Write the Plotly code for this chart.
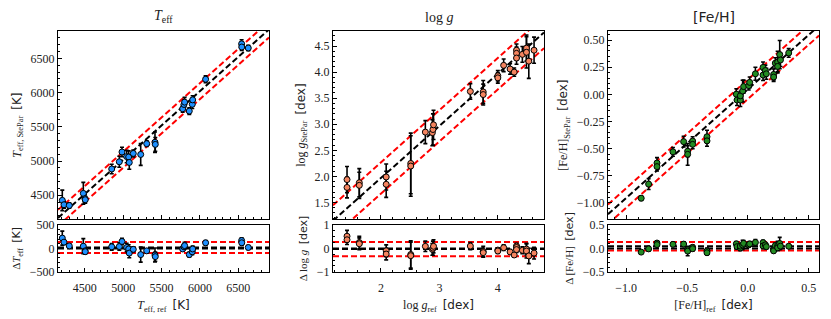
import plotly.graph_objects as go

# ---------------- data ----------------
teff_ref = [4206, 4228, 4297, 4480, 4502, 4505, 4850, 4949, 4984, 5045, 5071, 5079, 5131,
            5228, 5306, 5414, 5418, 5775, 5792, 5800, 5861, 5900, 5905, 6074, 6543, 6545, 6630]
teff_diff = [220, 134, 54, 48, -52, -70, 34, 40, 148, 20, -12, -100, -20,
             -132, -52, -140, -175, -12, 34, 60, -132, -72, -12, 120, 168, 120, 20]
teff_err = [150, 50, 40, 160, 60, 50, 70, 80, 70, 90, 90, 100, 50,
            160, 40, 150, 100, 50, 60, 70, 50, 60, 60, 50, 60, 50, 40]
teff_mean, teff_std = 20, 117

logg_ref = [1.42, 1.42, 1.63, 1.63, 2.09, 2.09, 2.51, 2.51, 2.76, 2.88, 2.89, 2.90, 3.53, 3.75,
            3.75, 4.00, 4.00, 4.10, 4.21, 4.28, 4.32, 4.32, 4.32, 4.42, 4.49, 4.49, 4.53, 4.62]
logg_sp = [1.94, 1.79, 1.88, 1.83, 1.99, 1.85, 2.25, 2.20, 2.85, 2.84, 2.90, 2.99, 3.63, 3.62,
           3.57, 3.93, 3.89, 4.13, 4.06, 4.00, 4.42, 4.36, 4.27, 4.34, 4.46, 4.38, 4.21, 4.42]
logg_err = [0.25, 0.2, 0.27, 0.25, 0.25, 0.25, 0.58, 0.58, 0.22, 0.25, 0.3, 0.28, 0.15, 0.22,
            0.2, 0.1, 0.1, 0.12, 0.1, 0.08, 0.12, 0.12, 0.12, 0.15, 0.25, 0.3, 0.33, 0.25]
logg_mean, logg_std = -0.03, 0.30

feh_ref = [-0.877, -0.816, -0.747, -0.747, -0.616, -0.528, -0.495, -0.495, -0.454, -0.454, -0.336,
           -0.336, -0.095, -0.089, -0.062, -0.062, -0.043, -0.035, 0.007, 0.015, 0.062, 0.125,
           0.125, 0.144, 0.152, 0.212, 0.212, 0.226, 0.245, 0.245, 0.262, 0.268, 0.336]
feh_sp = [-0.956, -0.826, -0.632, -0.665, -0.529, -0.435, -0.523, -0.552, -0.43, -0.46, -0.39,
          -0.428, 0.002, -0.052, -0.052, -0.013, 0.031, 0.072, 0.081, 0.111, 0.19, 0.249,
          0.178, 0.22, 0.19, 0.184, 0.16, 0.288, 0.297, 0.258, 0.367, 0.317, 0.382]
feh_err = [0.02, 0.05, 0.05, 0.04, 0.04, 0.05, 0.05, 0.1, 0.04, 0.04, 0.06, 0.05, 0.05, 0.05,
           0.06, 0.04, 0.1, 0.06, 0.04, 0.05, 0.06, 0.05, 0.05, 0.05, 0.05, 0.05, 0.04, 0.05,
           0.1, 0.05, 0.13, 0.06, 0.04]
feh_mean, feh_std = 0.047, 0.09

teff_sp = [r + d for r, d in zip(teff_ref, teff_diff)]
logg_diff = [s - r for s, r in zip(logg_sp, logg_ref)]
feh_diff = [s - r for s, r in zip(feh_sp, feh_ref)]

# ---------------- layout helpers ----------------
W, H = 831, 319
SERIF = "Liberation Serif"
SANS = "DejaVu Sans"
DASH = "6px,3px"
cols = [(58, 269), (333, 544), (608, 819)]
top_y = (25, 222)
bot_y = (228, 277)


def xd(a, b):
    return [a / W, b / W]


def yd(a, b):
    return [1 - b / H, 1 - a / H]


SANS_SPAN = "<span style='font-family:DejaVu Sans'>{}</span>"

panels = [
    dict(ref=teff_ref, sp=teff_sp, diff=teff_diff, err=teff_err, mean=teff_mean, std=teff_std,
         rng=[4150, 6900], color="#1E90FF",
         top_ticks=dict(tick0=4500, dtick=500), top_minor=100, top_fmt="d",
         bot_rng=[-500, 500], bot_ticks=dict(tick0=-500, dtick=500), bot_minor=100, bot_fmt="d",
         xt=dict(tick0=4500, dtick=500), xminor=100, xfmt="d",
         title="<i>T</i><sub>eff</sub>", title_font=SERIF,
         ytitle="<i>T</i><sub>eff, StePar</sub>  " + SANS_SPAN.format("[K]"),
         bytitle="Δ<i>T</i><sub>eff</sub>  " + SANS_SPAN.format("[K]"),
         xtitle="<i>T</i><sub>eff, ref</sub>  " + SANS_SPAN.format("[K]")),
    dict(ref=logg_ref, sp=logg_sp, diff=logg_diff, err=logg_err, mean=logg_mean, std=logg_std,
         rng=[1.18, 4.79], color="#F4845F",
         top_ticks=dict(tick0=1.5, dtick=0.5), top_minor=0.1, top_fmt=".1f",
         bot_rng=[-1, 1], bot_ticks=dict(tick0=-1, dtick=1), bot_minor=0.25, bot_fmt="d",
         xt=dict(tick0=2, dtick=1), xminor=0.2, xfmt="d",
         title="log <i>g</i>", title_font=SERIF,
         ytitle="log <i>g</i><sub>StePar</sub>  " + SANS_SPAN.format("[dex]"),
         bytitle="Δ log <i>g</i>  " + SANS_SPAN.format("[dex]"),
         xtitle="log <i>g</i><sub>ref</sub>  " + SANS_SPAN.format("[dex]")),
    dict(ref=feh_ref, sp=feh_sp, diff=feh_diff, err=feh_err, mean=feh_mean, std=feh_std,
         rng=[-1.15, 0.585], color="#228B22",
         top_ticks=dict(tick0=-1.0, dtick=0.25), top_minor=0.05, top_fmt=".2f",
         bot_rng=[-0.5, 0.5], bot_ticks=dict(tick0=-0.5, dtick=0.5), bot_minor=0.1, bot_fmt=".1f",
         xt=dict(tick0=-1.0, dtick=0.5), xminor=0.1, xfmt=".1f",
         title="[Fe/H]", title_font=SANS,
         ytitle="[Fe/H]<sub>StePar</sub>  " + SANS_SPAN.format("[dex]"),
         bytitle="Δ [Fe/H]  " + SANS_SPAN.format("[dex]"),
         xtitle="[Fe/H]<sub>ref</sub>  " + SANS_SPAN.format("[dex]")),
]

fig = go.Figure()
layout = dict(width=W, height=H, margin=dict(l=0, r=0, t=0, b=0),
              paper_bgcolor="white", plot_bgcolor="white", showlegend=False,
              font=dict(family=SERIF, size=12, color="black"), annotations=[])

tickfont = dict(family=SERIF, size=12, color="#222")


def axis_common():
    return dict(showgrid=False, zeroline=False, showline=True, linecolor="black", linewidth=1,
                mirror=True, ticks="inside", ticklen=4, tickwidth=1, tickcolor="black",
                tickfont=tickfont)


for i, p in enumerate(panels):
    xa_top = 2 * i + 1
    xa_bot = 2 * i + 2
    a, b = cols[i]
    lo, hi = p["rng"]
    xs = [lo, hi]

    ax = axis_common()
    ax.update(domain=xd(a, b), range=p["rng"], anchor=f"y{xa_top}", showticklabels=False,
              matches=f"x{xa_bot}",
              minor=dict(ticks="inside", ticklen=2, dtick=p["xminor"], tickcolor="black"),
              tickmode="linear", **p["xt"])
    layout[f"xaxis{xa_top}"] = ax
    ay = axis_common()
    ay.update(domain=yd(*top_y), range=p["rng"], anchor=f"x{xa_top}", tickmode="linear",
              tickformat=p["top_fmt"],
              minor=dict(ticks="inside", ticklen=2, dtick=p["top_minor"], tickcolor="black"),
              title=dict(text=p["ytitle"], font=dict(family=SERIF, size=12, color="#222"), standoff=6),
              **p["top_ticks"])
    layout[f"yaxis{xa_top}"] = ay

    bx = axis_common()
    bx.update(domain=xd(a, b), range=p["rng"], anchor=f"y{xa_bot}", tickmode="linear",
              tickformat=p["xfmt"], ticklabelstandoff=5,
              minor=dict(ticks="inside", ticklen=2, dtick=p["xminor"], tickcolor="black"),
              title=dict(text=p["xtitle"], font=dict(family=SERIF, size=12, color="#222"), standoff=6),
              **p["xt"])
    layout[f"xaxis{xa_bot}"] = bx
    by = axis_common()
    by.update(domain=yd(*bot_y), range=p["bot_rng"], anchor=f"x{xa_bot}", tickmode="linear",
              tickformat=p["bot_fmt"],
              minor=dict(ticks="inside", ticklen=2, dtick=p["bot_minor"], tickcolor="black"),
              title=dict(text=p["bytitle"], font=dict(family=SERIF, size=11, color="#222"), standoff=6),
              **p["bot_ticks"])
    layout[f"yaxis{xa_bot}"] = by

    xt_, yt_ = f"x{xa_top}", f"y{xa_top}"
    xb_, yb_ = f"x{xa_bot}", f"y{xa_bot}"

    m, s = p["mean"], p["std"]
    for off, col in [(m + s, "red"), (m - s, "red"), (m, "black")]:
        fig.add_trace(go.Scatter(x=xs, y=[v + off for v in xs], mode="lines",
                                 line=dict(color=col, width=2, dash=DASH),
                                 xaxis=xt_, yaxis=yt_, hoverinfo="skip"))
    fig.add_trace(go.Scatter(x=p["ref"], y=p["sp"], mode="markers",
                             error_y=dict(type="data", array=p["err"], color="black", thickness=1.6, width=2),
                             marker=dict(color=p["color"], size=6, line=dict(color="black", width=1)),
                             xaxis=xt_, yaxis=yt_))

    for lvl, col in [(m + s, "red"), (m - s, "red"), (0, "black"), (m, "black")]:
        fig.add_trace(go.Scatter(x=xs, y=[lvl, lvl], mode="lines",
                                 line=dict(color=col, width=2, dash=DASH),
                                 xaxis=xb_, yaxis=yb_, hoverinfo="skip"))
    fig.add_trace(go.Scatter(x=p["ref"], y=p["diff"], mode="markers",
                             error_y=dict(type="data", array=p["err"], color="black", thickness=1.6, width=2),
                             marker=dict(color=p["color"], size=6, line=dict(color="black", width=1)),
                             xaxis=xb_, yaxis=yb_))

    layout["annotations"].append(dict(
        text=p["title"], x=(a + b) / 2 / W, y=1 - 21 / H, xref="paper", yref="paper",
        xanchor="center", yanchor="bottom", showarrow=False,
        font=dict(family=p["title_font"], size=14, color="#222")))

fig.update_layout(**layout)
fig.write_html("out.html", config={"displayModeBar": False},
               post_script="document.body.style.margin='0';document.body.style.padding='0';")
